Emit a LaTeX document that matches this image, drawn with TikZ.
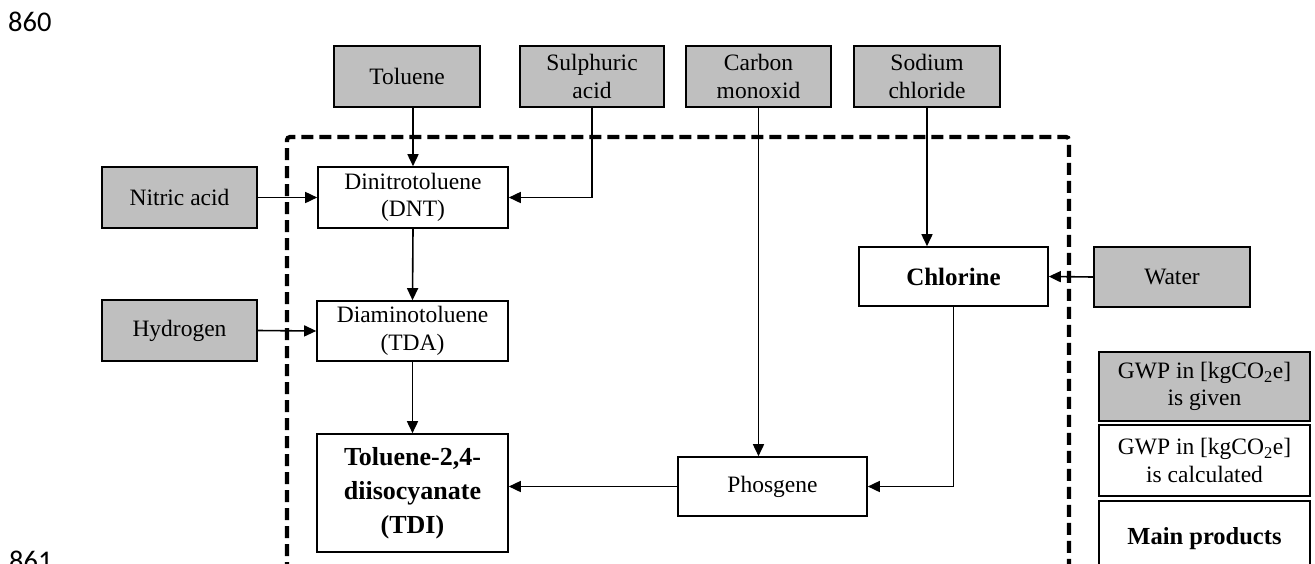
\documentclass[tikz,border=0pt]{standalone}
\usepackage{fontspec}
\setmainfont{Liberation Serif}
\newfontfamily\numfont{Carlito}
\usetikzlibrary{arrows.meta}
\definecolor{boxgray}{RGB}{191,191,191}
\tikzset{
  base/.style={draw=black, line width=1.6pt, inner sep=0pt, align=center,
    font=\fontsize{23.5}{27.5}\selectfont},
  given/.style={base, fill=boxgray},
  calc/.style={base, fill=white},
  mainp/.style={base, fill=white, font=\fontsize{26}{34}\selectfont\bfseries},
  arr/.style={line width=1.6pt, -{Triangle[length=12pt,width=11pt]}},
  sysbound/.style={line width=4.2pt, dash pattern=on 12pt off 6pt, rounded corners=3pt},
  pagenum/.style={anchor=base west, inner sep=0pt, font=\numfont\fontsize{28.5}{32}\selectfont}
}
\begin{document}
\begin{tikzpicture}[x=1pt,y=-1pt]
\useasboundingbox (0,0) rectangle (1315,563);
\clip (0,0) rectangle (1315,563);
\fill[white] (0,0) rectangle (1315,563);
\node[pagenum] (p860) at (8,31) {860};
\node[pagenum] (p861) at (9,570) {861};
% system boundary
\draw[sysbound] (287,610) -- (287,137) -- (1069,137) -- (1069,610);
% inputs
\node[given, minimum width=146, minimum height=61] (tol) at (407,76.5) {Toluene};
\node[given, minimum width=144, minimum height=61] (sul) at (592,76.5) {Sulphuric\\acid};
\node[given, minimum width=145, minimum height=61] (co) at (758.5,76.5) {Carbon\\monoxid};
\node[given, minimum width=146, minimum height=61] (nacl) at (927,76.5) {Sodium\\chloride};
\node[given, minimum width=155, minimum height=61] (nit) at (179.5,197.5) {Nitric acid};
\node[given, minimum width=155, minimum height=61] (hyd) at (179.5,330.5) {Hydrogen};
\node[given, minimum width=156, minimum height=60] (wat) at (1172,277) {Water};
% processes
\node[calc, minimum width=190, minimum height=61] (dnt) at (413,197.5) {Dinitrotoluene\\(DNT)};
\node[calc, minimum width=191, minimum height=60] (tda) at (412.5,331) {Diaminotoluene\\(TDA)};
\node[mainp, minimum width=191, minimum height=118] (tdi) at (412.5,493) {Toluene-2,4-\\diisocyanate\\(TDI)};
\node[calc, minimum width=189, minimum height=59] (pho) at (772.5,486.5) {Phosgene};
\node[mainp, minimum width=189, minimum height=59, font=\fontsize{25}{30}\selectfont\bfseries] (chl) at (953.5,276.5) {Chlorine};
% legend
\node[given, minimum width=211, minimum height=69] (leg1) at (1204.5,386.5) {GWP in [kgCO\textsubscript{2}e]\\is given};
\node[calc, minimum width=211, minimum height=71] (leg2) at (1204.5,460.5) {GWP in [kgCO\textsubscript{2}e]\\is calculated};
\node[mainp, minimum width=211, minimum height=75, font=\fontsize{24.5}{29}\selectfont\bfseries] (leg3) at (1204.5,538.5) {Main products};
% connectors
\draw[arr] (tol.south -| dnt.north) -- (dnt.north);
\draw[arr] (sul.south) |- (dnt.east);
\draw[arr] (nit.east) -- (dnt.west);
\draw[arr] (hyd.east) -- (tda.west);
\draw[arr] (dnt.south) -- (tda.north);
\draw[arr] (tda.south) -- (tdi.north);
\draw[arr] (co.south) -- (co.south |- pho.north);
\draw[arr] (nacl.south) -- (nacl.south |- chl.north);
\draw[arr] (wat.west) -- (chl.east);
\draw[arr] (chl.south) |- (pho.east);
\draw[arr] (pho.west) -- (pho.west -| tdi.east);
\end{tikzpicture}
\end{document}
